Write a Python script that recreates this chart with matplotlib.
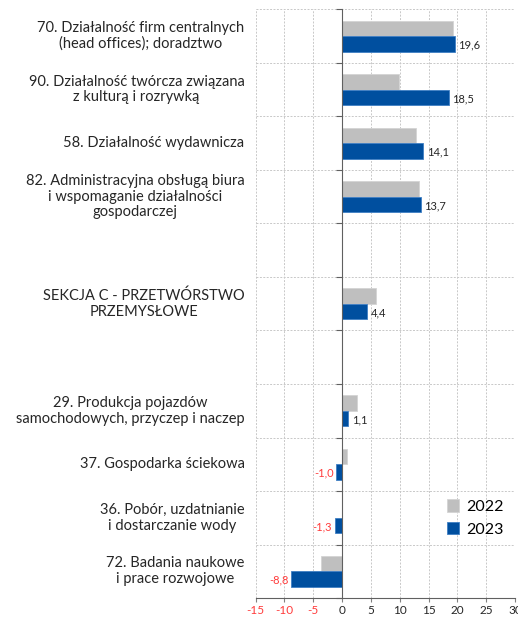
import numpy as np
import matplotlib.pyplot as plt

kategorie = [
    "70. Działalność firm centralnych\n(head offices); doradztwo",
    "90. Działalność twórcza związana\nz kulturą i rozrywką",
    "58. Działalność wydawnicza",
    "82. Administracyjna obsługą biura\ni wspomaganie działalności\ngospodarczej",
    "",
    "SEKCJA C - PRZETWÓRSTWO\nPRZEMYSŁOWE",
    "",
    "29. Produkcja pojazdów\nsamochodowych, przyczep i naczep",
    "37. Gospodarka ściekowa",
    "36. Pobór, uzdatnianie\ni dostarczanie wody",
    "72. Badania naukowe\ni prace rozwojowe",
]
r2022 = [19.2, 9.8, 12.8, 13.4, np.nan, 5.9, np.nan, 2.6, 0.9, 0.05, -3.6]
r2023 = [19.6, 18.5, 14.1, 13.7, np.nan, 4.4, np.nan, 1.1, -1.0, -1.3, -8.8]

plt.rcParams['font.family'] = ['Lato', 'DejaVu Sans']
szary = "#BFBFBF"
niebieski = "#004F9F"
czerwony = "#FF3B3B"
tekst = "#262626"

fig = plt.figure(figsize=(5.18, 6.23), dpi=100)
ax = fig.add_axes([0.4936, 0.040, 0.5006, 0.945])

y = np.arange(len(kategorie))
h = 0.29
ax.barh(y - h / 2, r2022, height=h, color=szary, edgecolor="#D4D4D4", linewidth=0.6, label="2022")
ax.barh(y + h / 2, r2023, height=h, color=niebieski, edgecolor="#3F7FC4", linewidth=0.6, label="2023")

for yi, v in zip(y, r2023):
    if np.isnan(v):
        continue
    if v >= 0:
        ax.text(v + 0.6, yi + h / 2 + 0.02, f"{v:.1f}".replace(".", ","), va="center", ha="left",
                fontsize=8, color=tekst)
    else:
        ax.text(v - 0.5, yi + h / 2 + 0.02, f"{v:.1f}".replace(".", ","), va="center", ha="right",
                fontsize=8, color=czerwony)

for yi, k in zip(y, kategorie):
    ax.text(-0.043, yi, k, transform=ax.get_yaxis_transform(), ha="right", va="center",
            multialignment="center", fontsize=10.5, color=tekst, linespacing=1.15)

ax.set_xlim(-15, 30)
ax.set_ylim(len(kategorie) - 0.5, -0.5)
ax.set_xticks(np.arange(-15, 31, 5))
ax.set_xticklabels([str(t) for t in range(-15, 31, 5)])
for lab, t in zip(ax.get_xticklabels(), range(-15, 31, 5)):
    lab.set_color(czerwony if t < 0 else tekst)
ax.tick_params(axis="x", labelsize=8.5, length=3, color="#808080", pad=2)

ax.set_yticks(np.arange(-0.5, len(kategorie), 1.0))
ax.set_yticklabels([])
ax.tick_params(axis="y", length=4, color="#606060")

ax.spines["left"].set_position(("data", 0))
ax.spines["left"].set_color("#606060")
ax.spines["bottom"].set_color("#606060")
ax.spines["top"].set_visible(False)
ax.spines["right"].set_visible(False)

ax.grid(True, color="#C8C8C8", linestyle=(0, (2, 1.5)), linewidth=0.7)
ax.set_axisbelow(True)

ax.legend(loc="lower right", bbox_to_anchor=(1.01, 0.08), frameon=False, fontsize=11.5,
          handlelength=0.8, handleheight=0.8, handletextpad=0.4, labelspacing=0.5)

fig.savefig("out.png", dpi=100)
